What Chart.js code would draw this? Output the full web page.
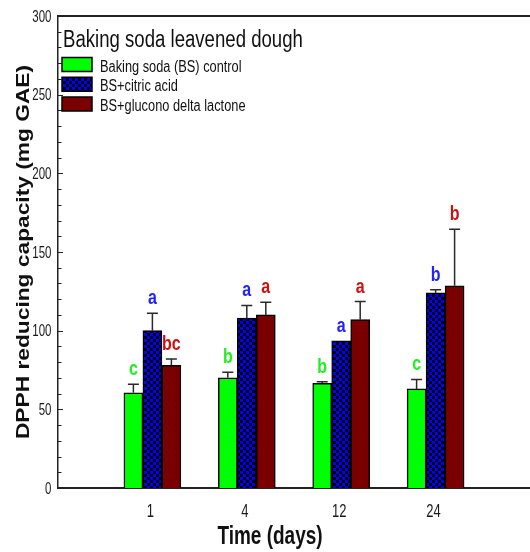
<!DOCTYPE html>
<html>
<head>
<meta charset="utf-8">
<script src="https://cdn.jsdelivr.net/npm/chart.js@4.4.0/dist/chart.umd.min.js"></script>
<style>
  html, body { margin: 0; padding: 0; background: #fff; }
  #wrap { width: 530px; height: 552px; position: relative; }
</style>
</head>
<body>
<div id="wrap"><canvas id="grafico"></canvas></div>
<script>
// datos
const dias = ['1', '4', '12', '24'];
const serieNombres = ['Baking soda (BS) control', 'BS+citric acid', 'BS+glucono delta lactone'];
const control = [60.5, 70, 66.5, 63];
const controlErr = [5.5, 3.5, 1, 6];
const citrico = [100, 108, 93.5, 124];
const citricoErr = [11, 8, 0, 2];
const gdl = [78, 110, 107, 128.5];
const gdlErr = [4, 8, 11.5, 36];
const letrasControl = ['c', 'b', 'b', 'c'];
const letrasCitrico = ['a', 'a', 'a', 'b'];
const letrasGdl = ['bc', 'a', 'a', 'b'];
const yTicks = [0, 50, 100, 150, 200, 250, 300];

const tituloLeyenda = 'Baking soda leavened dough';
const tituloX = 'Time (days)';
const tituloY = 'DPPH reducing capacity (mg GAE)';

// patrón cuadriculado azul/negro
function crearPatron() {
    const c = document.createElement('canvas');
    c.width = 6; c.height = 6;
    const g = c.getContext('2d');
    g.fillStyle = '#0000ff';
    g.fillRect(0, 0, 6, 6);
    g.fillStyle = '#000000';
    g.fillRect(0, 0, 3, 3);
    g.fillRect(3, 3, 3, 3);
    return g.createPattern(c, 'repeat');
}

const ctx = document.getElementById('grafico').getContext('2d');
const patronAzul = crearPatron();

const colores = ['#00ff00', patronAzul, '#7a0000'];
const coloresLetra = ['#22ee22', '#2222ff', '#cc1111'];
const errores = [controlErr, citricoErr, gdlErr];
const letras = [letrasControl, letrasCitrico, letrasGdl];

// etiquetas con huecos a los lados (el eje va de 0 a 5)
const etiquetas = ['', ...dias, ''];
const rellenar = arr => [null, ...arr, null];

function textoEstirado(c, texto, x, y, fuente, color, align, sy) {
    c.save();
    c.font = fuente;
    c.fillStyle = color;
    c.textAlign = align;
    c.textBaseline = 'alphabetic';
    c.translate(x, y);
    c.scale(1, sy);
    c.fillText(texto, 0, 0);
    c.restore();
}

const dibujoExtra = {
    id: 'dibujoExtra',
    afterDatasetsDraw(chart) {
        const c = chart.ctx;
        const area = chart.chartArea;
        const ys = chart.scales.y;
        const xs = chart.scales.x;

        // barras de error y letras
        chart.data.datasets.forEach((ds, i) => {
            const meta = chart.getDatasetMeta(i);
            meta.data.forEach((bar, j) => {
                const v = ds.data[j];
                if (v === null) return;
                const e = errores[i][j - 1];
                const yTop = ys.getPixelForValue(v + e);
                c.save();
                c.strokeStyle = '#2a2a2a';
                c.lineWidth = 1.5;
                if (e > 0) {
                    c.beginPath();
                    c.moveTo(bar.x, bar.y);
                    c.lineTo(bar.x, yTop);
                    c.moveTo(bar.x - 5.5, yTop);
                    c.lineTo(bar.x + 5.5, yTop);
                    c.stroke();
                }
                c.restore();
                textoEstirado(c, letras[i][j - 1], bar.x, yTop - 9, 'bold 16px Arial', coloresLetra[i], 'center', 1.3);
            });
        });

        // línea superior
        c.save();
        c.strokeStyle = '#222';
        c.lineWidth = 2;
        c.beginPath();
        c.moveTo(area.left, area.top);
        c.lineTo(chart.width, area.top);
        c.stroke();

        // marcas del eje y hacia dentro
        c.lineWidth = 1;
        for (let v = ys.min; v <= ys.max; v += 10) {
            const p = Math.round(ys.getPixelForValue(v)) + 0.5;
            const largo = v % 50 === 0 ? 5 : 3.5;
            c.beginPath();
            c.moveTo(area.left, p);
            c.lineTo(area.left + largo, p);
            c.stroke();
        }
        c.restore();

        // etiquetas del eje y
        yTicks.forEach(v => {
            const p = ys.getPixelForValue(v);
            textoEstirado(c, String(v), 51.5, p + 5.7, '11.5px Arial', '#1a1a1a', 'right', 1.4);
        });

        // etiquetas del eje x
        etiquetas.forEach((t, i) => {
            if (!t) return;
            const p = xs.getPixelForValue(i);
            textoEstirado(c, t, p - 2, 517, '13px Arial', '#1a1a1a', 'center', 1.35);
        });

        // títulos de ejes
        textoEstirado(c, tituloX, 270, 544, 'bold 19px Arial', '#111', 'center', 1.33);
        c.save();
        c.font = 'bold 17.5px Arial';
        c.fillStyle = '#111';
        c.textAlign = 'center';
        c.textBaseline = 'alphabetic';
        c.translate(29, 252);
        c.rotate(-Math.PI / 2);
        c.scale(1.3, 1);
        c.fillText(tituloY, 0, 0);
        c.restore();

        // leyenda dentro del gráfico
        textoEstirado(c, tituloLeyenda, 63, 47, '18.6px Arial', '#111', 'left', 1.3);
        chart.data.datasets.forEach((ds, i) => {
            const top = 57.5 + i * 19.75;
            c.save();
            c.fillStyle = colores[i];
            c.fillRect(62, top, 30, 14);
            c.strokeStyle = '#000';
            c.lineWidth = 1.5;
            c.strokeRect(62, top, 30, 14);
            c.restore();
            textoEstirado(c, ds.label, 100, top + 14, '12.8px Arial', '#111', 'left', 1.33);
        });
    }
};

new Chart(ctx, {
    type: 'bar',
    data: {
        labels: etiquetas,
        datasets: [
            { label: serieNombres[0], data: rellenar(control), backgroundColor: colores[0] },
            { label: serieNombres[1], data: rellenar(citrico), backgroundColor: colores[1] },
            { label: serieNombres[2], data: rellenar(gdl), backgroundColor: colores[2] }
        ].map(d => Object.assign(d, { borderColor: '#000', borderWidth: 1.5, barThickness: 19 }))
    },
    options: {
        responsive: true,
        maintainAspectRatio: false,
        animation: false,
        layout: { padding: { top: 16, right: 0, left: 0, bottom: 0 } },
        plugins: {
            legend: { display: false },
            tooltip: { enabled: false },
            title: { display: false }
        },
        scales: {
            x: {
                type: 'category',
                offset: false,
                grid: { display: false, drawTicks: false },
                border: { display: true, color: '#222', width: 2 },
                ticks: { display: false },
                afterFit: s => { s.height = 64; }
            },
            y: {
                min: 0,
                max: 300,
                grid: { display: false, drawTicks: false },
                border: { display: true, color: '#222', width: 1.5 },
                ticks: { display: false, stepSize: 50 },
                afterFit: s => { s.width = 58; }
            }
        }
    },
    plugins: [dibujoExtra]
});
</script>
</body>
</html>
